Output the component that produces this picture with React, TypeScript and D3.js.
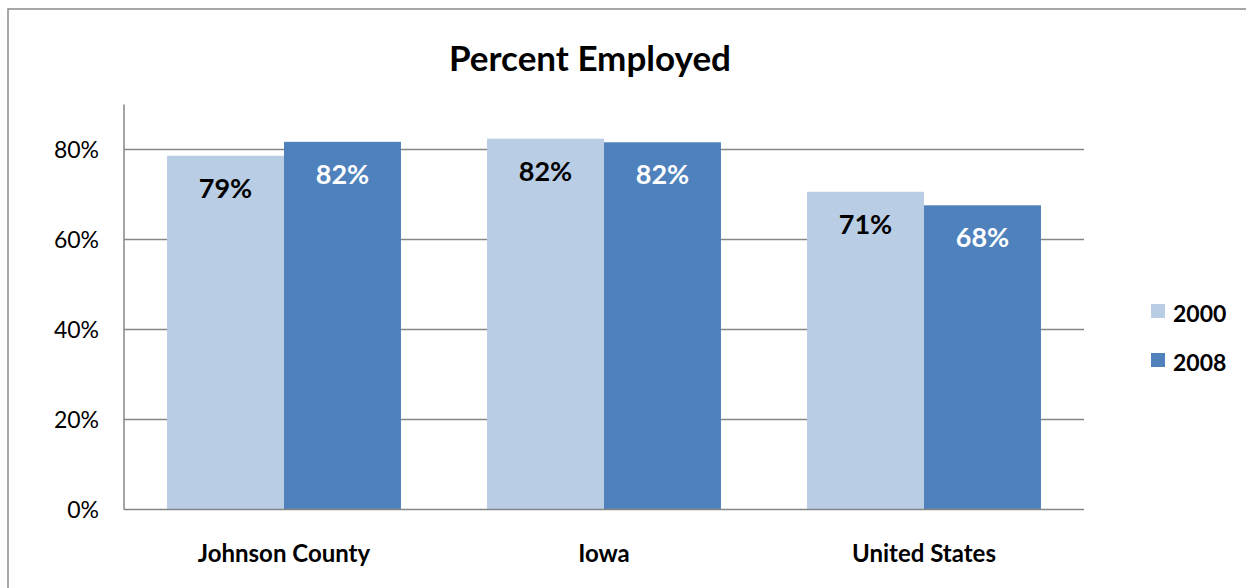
import * as d3 from 'd3';
import { useEffect, useRef } from 'react';

const categories = ['Johnson County', 'Iowa', 'United States'];
const series = ['2000', '2008'];
const values2000 = [0.786, 0.824, 0.706];
const values2008 = [0.817, 0.816, 0.676];
const yTicks = [0, 0.2, 0.4, 0.6, 0.8];

const WIDTH = 1246;
const HEIGHT = 588;
const FONT = 'Lato, "Open Sans", sans-serif';
const COLORS = ['#B9CDE5', '#4F81BD'];
const LABEL_COLORS = ['#000000', '#ffffff'];
const GRID = '#868686';

export default function App() {
  const svgRef = useRef<SVGSVGElement>(null);

  useEffect(() => {
    if (!svgRef.current) return;
    const svg = d3.select(svgRef.current);
    svg.selectAll('*').remove();

    const margin = { top: 104.5, right: 162, bottom: 78.5, left: 124 };
    const innerWidth = WIDTH - margin.left - margin.right;
    const innerHeight = HEIGHT - margin.top - margin.bottom;

    // outer frame
    svg
      .append('rect')
      .attr('x', 8)
      .attr('y', 9)
      .attr('width', WIDTH)
      .attr('height', HEIGHT)
      .attr('fill', '#fff')
      .attr('stroke', '#8a8a8a')
      .attr('stroke-width', 1.5);

    svg
      .append('text')
      .attr('x', 590)
      .attr('y', 71)
      .attr('text-anchor', 'middle')
      .attr('font-family', FONT)
      .attr('font-weight', 700)
      .attr('font-size', 35)
      .attr('fill', '#000')
      .text('Percent Employed');

    const g = svg.append('g').attr('transform', `translate(${margin.left},${margin.top})`);

    const x0 = d3
      .scaleBand()
      .domain(categories)
      .range([0, innerWidth])
      .paddingInner(0.269)
      .paddingOuter(0.1345);
    const x1 = d3.scaleBand().domain(series).range([0, x0.bandwidth()]).padding(0);
    const y = d3.scaleLinear().domain([0, 0.9]).range([innerHeight, 0]);

    // gridlines
    g.selectAll('.grid')
      .data(yTicks.filter((t) => t > 0))
      .enter()
      .append('line')
      .attr('x1', 0)
      .attr('x2', innerWidth)
      .attr('y1', (d) => y(d))
      .attr('y2', (d) => y(d))
      .attr('stroke', GRID)
      .attr('stroke-width', 1.5);

    const rows = categories.map((c, i) => ({
      category: c,
      values: [values2000[i], values2008[i]],
    }));

    const groups = g
      .selectAll('.cat')
      .data(rows)
      .enter()
      .append('g')
      .attr('transform', (d) => `translate(${x0(d.category)},0)`);

    groups
      .selectAll('rect')
      .data((d) => d.values.map((v, i) => ({ key: series[i], v, i })))
      .enter()
      .append('rect')
      .attr('x', (d) => x1(d.key) || 0)
      .attr('width', x1.bandwidth())
      .attr('y', (d) => y(d.v))
      .attr('height', (d) => innerHeight - y(d.v))
      .attr('fill', (d) => COLORS[d.i]);

    groups
      .selectAll('.val')
      .data((d) => d.values.map((v, i) => ({ key: series[i], v, i })))
      .enter()
      .append('text')
      .attr('x', (d) => (x1(d.key) || 0) + x1.bandwidth() / 2)
      .attr('y', (d) => y(d.v) + 42)
      .attr('text-anchor', 'middle')
      .attr('font-family', FONT)
      .attr('font-weight', 700)
      .attr('font-size', 27)
      .attr('fill', (d) => LABEL_COLORS[d.i])
      .text((d) => `${Math.round(d.v * 100)}%`);

    // axes lines
    g.append('line')
      .attr('x1', 0)
      .attr('x2', 0)
      .attr('y1', 0)
      .attr('y2', innerHeight)
      .attr('stroke', GRID)
      .attr('stroke-width', 1.5);
    g.append('line')
      .attr('x1', 0)
      .attr('x2', innerWidth)
      .attr('y1', innerHeight)
      .attr('y2', innerHeight)
      .attr('stroke', GRID)
      .attr('stroke-width', 1.5);

    // y tick labels
    g.selectAll('.ytick')
      .data(yTicks)
      .enter()
      .append('text')
      .attr('x', -25)
      .attr('y', (d) => y(d) + 8.5)
      .attr('text-anchor', 'end')
      .attr('font-family', FONT)
      .attr('font-size', 23)
      .attr('fill', '#000')
      .text((d) => `${Math.round(d * 100)}%`);

    // category labels
    g.selectAll('.xlabel')
      .data(categories)
      .enter()
      .append('text')
      .attr('x', (d) => (x0(d) || 0) + x0.bandwidth() / 2)
      .attr('y', innerHeight + 52.5)
      .attr('text-anchor', 'middle')
      .attr('font-family', FONT)
      .attr('font-weight', 700)
      .attr('font-size', 24)
      .attr('fill', '#000')
      .text((d) => d);

    // legend
    const legend = svg
      .selectAll('.legend')
      .data(series)
      .enter()
      .append('g')
      .attr('transform', (_, i) => `translate(1151,${304 + i * 49})`);
    legend
      .append('rect')
      .attr('width', 14)
      .attr('height', 14)
      .attr('fill', (_, i) => COLORS[i]);
    legend
      .append('text')
      .attr('x', 22)
      .attr('y', 18)
      .attr('font-family', FONT)
      .attr('font-weight', 700)
      .attr('font-size', 23)
      .attr('fill', '#000')
      .text((d) => d);
  }, []);

  return (
    <div style={{ position: 'fixed', left: 0, top: 0, background: '#fff' }}>
      <svg ref={svgRef} width={WIDTH} height={HEIGHT} style={{ display: 'block' }} />
    </div>
  );
}
